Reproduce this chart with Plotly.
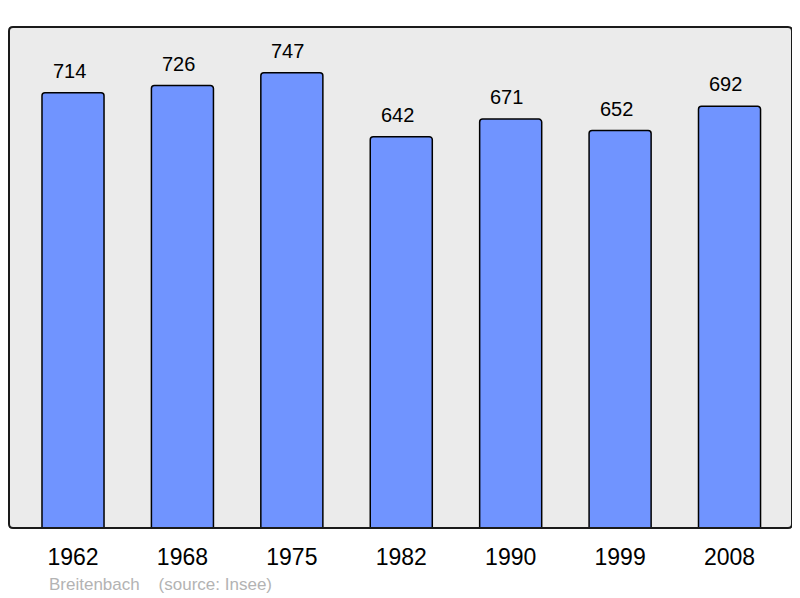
import plotly.graph_objects as go

years = ["1962", "1968", "1975", "1982", "1990", "1999", "2008"]
population = [714, 726, 747, 642, 671, 652, 692]
commune = "Breitenbach"
source = "(source: Insee)"

# the page body adds an 8px offset; the figure fills the rest of the window
OFF = 8
W, H = 800 - OFF, 598 - OFF
L, T = 9 - OFF, 27 - OFF
R = W - (792 - OFF)
B = H - (528 - OFF)
pw, ph = W - L - R, H - T - B

fig = go.Figure()
fig.add_trace(go.Bar(
    x=list(range(len(years))), y=population,
    width=0.567,
    marker=dict(color="#7094ff", line=dict(color="#000000", width=1.5), cornerradius=3),
    hoverinfo="skip",
))

for i, v in enumerate(population):
    fig.add_annotation(x=i, y=v, text=str(v), showarrow=False, yanchor="bottom",
                       yshift=9, xshift=-4, font=dict(size=20, color="#000000"))

# rounded frame
rx, ry = 4 / pw, 4 / ph
path = (f"M {rx},0 L {1-rx},0 Q 1,0 1,{ry} L 1,{1-ry} Q 1,1 {1-rx},1 "
        f"L {rx},1 Q 0,1 0,{1-ry} L 0,{ry} Q 0,0 {rx},0 Z")
fig.add_shape(type="path", path=path, xref="paper", yref="paper",
              line=dict(color="#1a1a1a", width=2), layer="above")

fig.add_annotation(x=(47 - 9) / pw, y=-(584 - 528) / ph, xref="paper", yref="paper",
                   text=f"{commune}&nbsp;&nbsp;&nbsp;&nbsp;{source}", showarrow=False,
                   xanchor="left", yanchor="middle",
                   font=dict(size=17, color="#b3b3b3"))

fig.update_layout(
    width=W, height=H,
    margin=dict(l=L, r=R, t=T, b=B),
    paper_bgcolor="#ffffff", plot_bgcolor="#ebebeb",
    font=dict(family="Liberation Sans, Arial, sans-serif", color="#000000"),
    showlegend=False,
    xaxis=dict(tickmode="array", tickvals=list(range(len(years))), ticktext=years,
               range=[-0.585, 6.571], showgrid=False, zeroline=False, showline=False,
               ticks="", tickfont=dict(size=23, color="#000000"), ticklabelstandoff=13),
    yaxis=dict(range=[0, 822], visible=False),
)

fig.write_html("out.html")
